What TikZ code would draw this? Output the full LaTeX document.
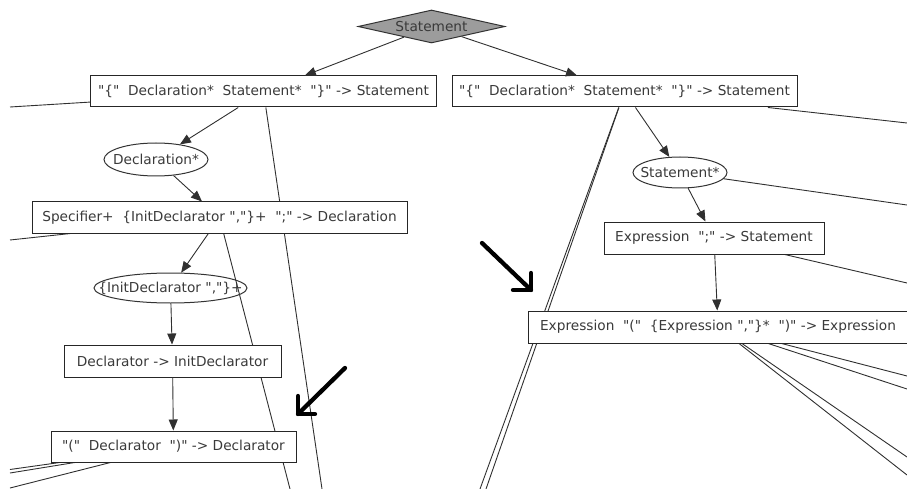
\documentclass[tikz,border=0pt]{standalone}
\usepackage{fontspec}
\setmainfont{DejaVu Sans}[Ligatures=TeXOff]
\usetikzlibrary{shapes.geometric,arrows.meta,backgrounds}
\definecolor{txt}{HTML}{3A3A3A}
\definecolor{edgec}{HTML}{303030}
\definecolor{diam}{HTML}{9C9C9C}
\begin{document}
\begin{tikzpicture}[x=1pt,y=-1pt,
  font=\fontsize{13.7}{16}\selectfont,
  box/.style={draw=black!85, fill=white, line width=1pt, inner sep=0pt, text=txt},
  ell/.style={ellipse, draw=black!80, line width=1pt, inner sep=0pt, text=txt},
  conn/.style={draw=edgec, line width=0.9pt},
  arr/.style={conn, -{Triangle[length=11pt,width=9pt]}},
  anno/.style={draw=black, line width=4.3pt, line cap=round, line join=round}]
\useasboundingbox (0,0) rectangle (907,489);

% nodes
\node[diamond, draw=black!80, fill=diam, line width=1pt, inner sep=0pt,
      minimum width=147pt, minimum height=33pt, text=txt] (st) at (431.5,26.5) {\makebox[0pt]{Statement}};
\node[box, minimum width=346pt, minimum height=31pt] (A) at (263.5,91.5)
  {"\{"\ \ Declaration*\ \ Statement*\ \ "\}"\ -> Statement};
\node[box, minimum width=345pt, minimum height=31pt] (B) at (624.5,91.5)
  {"\{"\ \ Declaration*\ \ Statement*\ \ "\}"\ -> Statement};
\node[ell, minimum width=104pt, minimum height=33pt] (dS) at (156,159.5) {\makebox[0pt]{Declaration*}};
\node[box, minimum width=375pt, minimum height=31pt] (C) at (219.5,217.5)
  {Specifier+\ \ \{InitDeclarator ","\}+\ \ ";" -> Declaration};
\node[ell, minimum width=153pt, minimum height=30pt] (iD) at (170.5,288) {\makebox[0pt]{\{InitDeclarator ","\}+}};
\node[box, minimum width=217pt, minimum height=32pt] (D) at (172.5,361)
  {Declarator -> InitDeclarator};
\node[box, minimum width=245pt, minimum height=31pt] (E) at (173.5,446.5)
  {"("\ \ Declarator\ \ ")" -> Declarator};
\node[ell, minimum width=94pt, minimum height=31pt] (sS) at (680,172.5) {\makebox[0pt]{Statement*}};
\node[box, minimum width=220pt, minimum height=32pt] (F) at (714,238)
  {Expression\ \ ";" -> Statement};
\node[box, minimum width=380pt, minimum height=32pt] (G) at (718,327)
  {Expression\ \ "("\ \ \{Expression ","\}*\ \ ")" -> Expression};

% free ends of edges to nodes outside the view
\coordinate (aL) at (10,107);
\coordinate (aD) at (322,489);
\coordinate (cL) at (10,240);
\coordinate (cD) at (290,489);
\coordinate (eL1) at (10,469.5);
\coordinate (eL2) at (10,473);
\coordinate (eL3) at (10,488);
\coordinate (bD1) at (480,489);
\coordinate (bD2) at (486,489);
\coordinate (bR) at (907,123);
\coordinate (sR) at (907,205);
\coordinate (fR) at (907,283);
\coordinate (gR1) at (907,376);
\coordinate (gR2) at (907,389);
\coordinate (gR3) at (907,457);
\coordinate (gR4) at (907,475);

\begin{pgfonlayer}{background}
  \draw[conn] (A) -- (aL);
  \draw[conn] (A) -- (aD);
  \draw[conn] (C) -- (cL);
  \draw[conn] (C) -- (cD);
  \draw[conn] (E) -- (eL1);
  \draw[conn] (E) -- (eL2);
  \draw[conn] (E) -- (eL3);
  \draw[conn] (B) -- (bD1);
  \draw[conn] (B) -- (bD2);
  \draw[conn] (B) -- (bR);
  \draw[conn] (sS) -- (sR);
  \draw[conn] (F) -- (fR);
  \draw[conn] (G) -- (gR1);
  \draw[conn] (G) -- (gR2);
  \draw[conn] (G) -- (gR3);
  \draw[conn] (G) -- (gR4);
\end{pgfonlayer}

% arrows
\draw[arr] (st) -- (A);
\draw[arr] (st) -- (B);
\draw[arr] (A) -- (dS);
\draw[arr] (dS) -- (C);
\draw[arr] (C) -- (iD);
\draw[arr] (iD) -- (D);
\draw[arr] (D) -- (E);
\draw[arr] (B) -- (sS);
\draw[arr] (sS) -- (F);
\draw[arr] (F) -- (G);

% hand-drawn annotation arrows
\draw[anno] (345,368) -- (298,414);
\draw[anno] (298,396) -- (298,414) -- (315,414);
\draw[anno] (482,243) -- (531,290);
\draw[anno] (531,273) -- (531,290) -- (513,290);
\end{tikzpicture}
\end{document}
